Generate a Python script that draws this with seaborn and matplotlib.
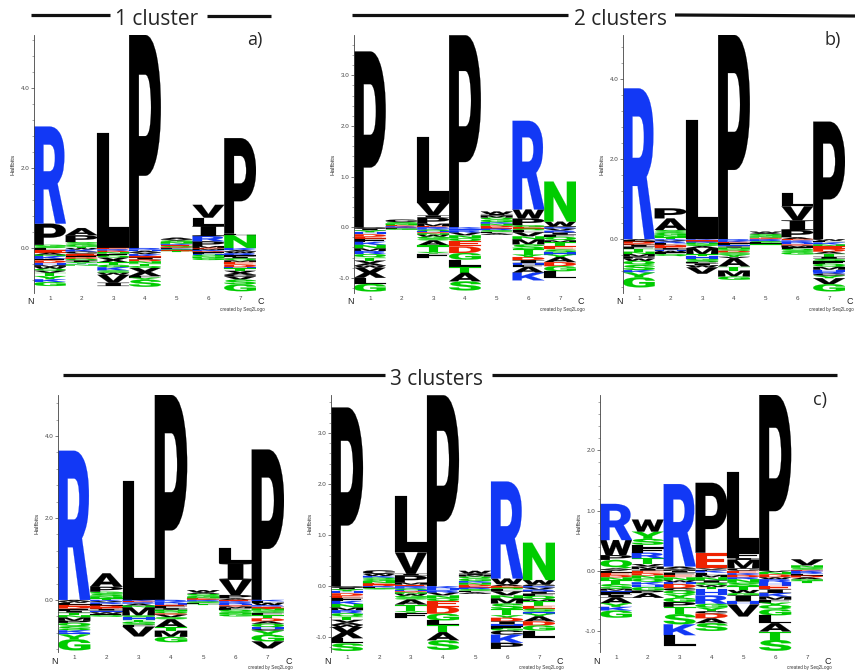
import matplotlib
matplotlib.use("Agg")
import matplotlib.pyplot as plt
import seaborn as sns
from matplotlib.textpath import TextPath
from matplotlib.patches import PathPatch
from matplotlib.font_manager import FontProperties
from matplotlib.transforms import Affine2D
from matplotlib.lines import Line2D
from matplotlib.ticker import MultipleLocator, AutoMinorLocator, FormatStrFormatter

sns.set_style("ticks")
plt.rcParams["font.family"] = ["Liberation Sans", "DejaVu Sans"]

POSITIONS = [1, 2, 3, 4, 5, 6, 7]
POS_LABELS = ["1", "2", "3", "4", "5", "6", "7"]

# Each column: letters stacked upward from 0 (first = closest to 0) and
# downward from 0 (first = closest to 0); values in halfbits.

# ---- 1 cluster ----
A_UP = [
    [("S", 0.04), ("G", 0.04), ("P", 0.53), ("R", 2.43)],
    [("T", 0.03), ("G", 0.05), ("S", 0.07), ("P", 0.17), ("A", 0.18)],
    [("L", 2.88)],
    [("P", 5.33)],
    [("D", 0.02), ("Q", 0.03), ("E", 0.03), ("K", 0.03), ("N", 0.04), ("G", 0.04), ("V", 0.03), ("A", 0.04)],
    [("M", 0.05), ("P", 0.12), ("R", 0.13), ("I", 0.25), ("L", 0.21), ("V", 0.32)],
    [("N", 0.33), ("L", 0.03), ("P", 2.39)],
]
A_DN = [
    [("L", 0.06), ("E", 0.06), ("A", 0.05), ("N", 0.03), ("K", 0.07), ("F", 0.04), ("D", 0.06), ("H", 0.06),
     ("M", 0.04), ("W", 0.05), ("Q", 0.05), ("V", 0.05), ("T", 0.08), ("Y", 0.08), ("K", 0.07), ("G", 0.10)],
    [("W", 0.04), ("K", 0.05), ("C", 0.05), ("E", 0.05), ("F", 0.04), ("D", 0.04), ("Q", 0.04), ("I", 0.04),
     ("Y", 0.04), ("H", 0.02), ("N", 0.03)],
    [("E", 0.03), ("R", 0.04), ("D", 0.03), ("N", 0.04), ("F", 0.05), ("Q", 0.05), ("X", 0.12), ("T", 0.06),
     ("G", 0.06), ("K", 0.08), ("S", 0.06), ("W", 0.05), ("V", 0.20), ("I", 0.08)],
    [("R", 0.04), ("H", 0.03), ("A", 0.04), ("V", 0.04), ("K", 0.06), ("E", 0.03), ("I", 0.05), ("D", 0.04),
     ("N", 0.06), ("T", 0.06), ("Q", 0.05), ("X", 0.20), ("F", 0.04), ("Y", 0.05), ("S", 0.18)],
    [("L", 0.02), ("R", 0.02), ("S", 0.02), ("E", 0.02), ("T", 0.02)],
    [("E", 0.02), ("M", 0.03), ("K", 0.03), ("D", 0.03), ("F", 0.03), ("H", 0.03), ("Q", 0.04), ("N", 0.04), ("G", 0.05)],
    [("K", 0.05), ("A", 0.04), ("W", 0.04), ("R", 0.05), ("F", 0.04), ("I", 0.04), ("Q", 0.05), ("M", 0.04),
     ("E", 0.06), ("D", 0.07), ("H", 0.03), ("T", 0.06), ("X", 0.10), ("C", 0.04), ("V", 0.08), ("S", 0.12), ("G", 0.17)],
]

# ---- 2 clusters, first ----
B1_UP = [
    [("P", 3.47)],
    [("K", 0.02), ("E", 0.02), ("N", 0.03), ("S", 0.03), ("C", 0.05)],
    [("E", 0.02), ("M", 0.05), ("P", 0.12), ("I", 0.04), ("V", 0.25), ("L", 1.31)],
    [("P", 3.79)],
    [("D", 0.03), ("N", 0.04), ("K", 0.03), ("G", 0.05), ("Q", 0.04), ("M", 0.04), ("I", 0.03), ("W", 0.05)],
    [("G", 0.04), ("P", 0.13), ("W", 0.18), ("R", 1.75)],
    [("C", 0.02), ("W", 0.09), ("N", 0.79)],
]
B1_DN = [
    [("C", 0.03), ("I", 0.03), ("Y", 0.04), ("H", 0.04), ("D", 0.05), ("E", 0.04), ("F", 0.06), ("K", 0.06),
     ("N", 0.07), ("M", 0.05), ("R", 0.06), ("Q", 0.07), ("T", 0.06), ("V", 0.05), ("A", 0.05), ("W", 0.04),
     ("X", 0.20), ("L", 0.12), ("G", 0.15)],
    [("D", 0.01), ("R", 0.01), ("L", 0.01), ("G", 0.02)],
    [("R", 0.02), ("K", 0.03), ("Q", 0.03), ("H", 0.02), ("D", 0.02), ("N", 0.03), ("W", 0.04), ("G", 0.03),
     ("S", 0.04), ("A", 0.10), ("T", 0.13), ("Y", 0.03), ("F", 0.09)],
    [("K", 0.03), ("H", 0.03), ("R", 0.05), ("V", 0.05), ("N", 0.06), ("Q", 0.06), ("E", 0.10), ("D", 0.13),
     ("G", 0.13), ("L", 0.14), ("T", 0.12), ("A", 0.17), ("S", 0.18)],
    [("E", 0.03), ("R", 0.03), ("S", 0.03), ("L", 0.03), ("A", 0.03)],
    [("E", 0.03), ("Q", 0.03), ("L", 0.04), ("V", 0.08), ("N", 0.06), ("M", 0.10), ("S", 0.10), ("T", 0.10),
     ("Y", 0.05), ("D", 0.06), ("I", 0.06), ("H", 0.04), ("F", 0.03), ("A", 0.12), ("K", 0.15)],
    [("K", 0.03), ("V", 0.04), ("R", 0.04), ("I", 0.04), ("F", 0.04), ("Q", 0.07), ("M", 0.04), ("T", 0.08),
     ("E", 0.06), ("S", 0.06), ("H", 0.04), ("Y", 0.05), ("A", 0.10), ("D", 0.08), ("G", 0.10), ("L", 0.14)],
]

# ---- 2 clusters, second ----
B2_UP = [
    [("R", 3.76)],
    [("T", 0.05), ("N", 0.05), ("G", 0.06), ("S", 0.07), ("A", 0.29), ("P", 0.25)],
    [("L", 2.97)],
    [("P", 5.09)],
    [("D", 0.02), ("E", 0.02), ("N", 0.03), ("G", 0.03), ("Q", 0.03), ("A", 0.03), ("W", 0.03)],
    [("A", 0.05), ("P", 0.18), ("I", 0.24), ("V", 0.35), ("L", 0.33)],
    [("P", 2.93)],
]
B2_DN = [
    [("A", 0.03), ("L", 0.03), ("D", 0.05), ("E", 0.03), ("I", 0.05), ("F", 0.05), ("T", 0.07), ("N", 0.06),
     ("M", 0.06), ("P", 0.05), ("W", 0.06), ("Q", 0.10), ("S", 0.13), ("K", 0.06), ("Y", 0.12), ("G", 0.25)],
    [("K", 0.03), ("V", 0.03), ("R", 0.04), ("L", 0.04), ("D", 0.04), ("E", 0.04), ("I", 0.04), ("H", 0.03),
     ("W", 0.04), ("F", 0.04), ("Q", 0.05)],
    [("K", 0.03), ("E", 0.03), ("R", 0.03), ("N", 0.04), ("S", 0.04), ("A", 0.05), ("M", 0.16), ("T", 0.05),
     ("H", 0.06), ("G", 0.04), ("Q", 0.04), ("F", 0.03), ("I", 0.05), ("W", 0.05), ("V", 0.16)],
    [("R", 0.04), ("K", 0.03), ("E", 0.03), ("F", 0.04), ("H", 0.04), ("I", 0.03), ("N", 0.04), ("Q", 0.04),
     ("D", 0.04), ("S", 0.05), ("Y", 0.06), ("V", 0.03), ("A", 0.21), ("T", 0.10), ("M", 0.15), ("G", 0.08)],
    [("K", 0.02), ("R", 0.03), ("S", 0.03), ("L", 0.03), ("I", 0.02), ("T", 0.02)],
    [("E", 0.03), ("K", 0.03), ("R", 0.04), ("H", 0.03), ("D", 0.03), ("M", 0.04), ("F", 0.04), ("Q", 0.04),
     ("S", 0.04), ("G", 0.06)],
    [("W", 0.04), ("L", 0.04), ("K", 0.05), ("N", 0.05), ("E", 0.06), ("D", 0.07), ("A", 0.05), ("T", 0.08),
     ("I", 0.05), ("S", 0.06), ("F", 0.06), ("Q", 0.08), ("M", 0.07), ("H", 0.05), ("R", 0.05), ("C", 0.05),
     ("Y", 0.06), ("V", 0.15), ("G", 0.18)],
]

# ---- 3 clusters, first ----
C1_UP = [
    [("R", 3.64)],
    [("T", 0.04), ("N", 0.05), ("S", 0.06), ("G", 0.05), ("P", 0.12), ("A", 0.33)],
    [("L", 2.91)],
    [("P", 5.00)],
    [("D", 0.02), ("E", 0.02), ("N", 0.03), ("G", 0.04), ("Q", 0.04), ("A", 0.04), ("W", 0.05)],
    [("A", 0.04), ("P", 0.08), ("V", 0.37), ("I", 0.41), ("L", 0.36)],
    [("P", 3.67)],
]
C1_DN = [
    [("A", 0.03), ("W", 0.04), ("L", 0.05), ("E", 0.04), ("D", 0.05), ("F", 0.05), ("I", 0.05), ("T", 0.06),
     ("N", 0.06), ("M", 0.08), ("P", 0.05), ("Q", 0.08), ("S", 0.10), ("K", 0.06), ("H", 0.04), ("Y", 0.12), ("G", 0.27)],
    [("K", 0.03), ("V", 0.03), ("R", 0.04), ("L", 0.04), ("D", 0.04), ("E", 0.04), ("I", 0.04), ("H", 0.04),
     ("W", 0.04), ("F", 0.03), ("Q", 0.04)],
    [("K", 0.03), ("E", 0.03), ("R", 0.03), ("A", 0.05), ("N", 0.04), ("M", 0.20), ("S", 0.04), ("H", 0.07),
     ("T", 0.04), ("G", 0.04), ("Q", 0.04), ("F", 0.04), ("V", 0.24)],
    [("R", 0.04), ("K", 0.04), ("H", 0.04), ("E", 0.03), ("F", 0.05), ("I", 0.04), ("N", 0.04), ("Q", 0.05),
     ("D", 0.03), ("V", 0.06), ("S", 0.05), ("A", 0.20), ("T", 0.08), ("M", 0.15), ("G", 0.13)],
    [("K", 0.02), ("R", 0.02), ("S", 0.03), ("L", 0.03), ("T", 0.02)],
    [("E", 0.03), ("K", 0.03), ("R", 0.04), ("H", 0.03), ("D", 0.03), ("M", 0.04), ("F", 0.04), ("Q", 0.04),
     ("S", 0.04), ("N", 0.03), ("G", 0.05)],
    [("K", 0.03), ("L", 0.04), ("W", 0.06), ("R", 0.03), ("E", 0.05), ("N", 0.05), ("S", 0.05), ("F", 0.06),
     ("T", 0.08), ("D", 0.07), ("A", 0.06), ("Q", 0.09), ("H", 0.04), ("C", 0.04), ("Y", 0.10), ("G", 0.16), ("V", 0.17)],
]

# ---- 3 clusters, second ----
C2_UP = [
    [("P", 3.50)],
    [("D", 0.03), ("E", 0.03), ("N", 0.04), ("G", 0.04), ("Q", 0.03), ("K", 0.03), ("W", 0.04), ("C", 0.07)],
    [("E", 0.03), ("M", 0.04), ("P", 0.14), ("I", 0.03), ("V", 0.42), ("L", 1.10)],
    [("P", 3.74)],
    [("D", 0.03), ("N", 0.04), ("K", 0.03), ("G", 0.05), ("Q", 0.04), ("M", 0.03), ("I", 0.03), ("W", 0.05)],
    [("A", 0.04), ("W", 0.11), ("R", 1.90)],
    [("C", 0.03), ("W", 0.09), ("N", 0.73)],
]
C2_DN = [
    [("C", 0.03), ("I", 0.03), ("Y", 0.04), ("H", 0.04), ("D", 0.05), ("E", 0.04), ("F", 0.06), ("K", 0.06),
     ("N", 0.07), ("M", 0.05), ("R", 0.06), ("Q", 0.07), ("T", 0.06), ("V", 0.05), ("A", 0.05), ("W", 0.04),
     ("X", 0.22), ("L", 0.10), ("S", 0.15)],
    [("R", 0.02), ("L", 0.02), ("S", 0.02)],
    [("R", 0.02), ("K", 0.03), ("Q", 0.03), ("H", 0.02), ("D", 0.02), ("N", 0.03), ("W", 0.04), ("G", 0.03),
     ("S", 0.04), ("A", 0.10), ("T", 0.13), ("Y", 0.03), ("F", 0.10)],
    [("K", 0.04), ("H", 0.04), ("R", 0.05), ("V", 0.05), ("N", 0.06), ("Q", 0.06), ("E", 0.10), ("D", 0.14),
     ("G", 0.13), ("L", 0.09), ("T", 0.14), ("A", 0.16), ("S", 0.19)],
    [("E", 0.03), ("R", 0.03), ("S", 0.03), ("L", 0.03), ("A", 0.03)],
    [("E", 0.03), ("Q", 0.03), ("L", 0.04), ("V", 0.08), ("N", 0.06), ("M", 0.10), ("S", 0.11), ("T", 0.12),
     ("Y", 0.05), ("D", 0.07), ("I", 0.06), ("H", 0.04), ("F", 0.04), ("G", 0.04), ("C", 0.08), ("K", 0.16), ("P", 0.12)],
    [("K", 0.03), ("V", 0.04), ("R", 0.04), ("I", 0.04), ("F", 0.04), ("Q", 0.07), ("M", 0.04), ("T", 0.08),
     ("E", 0.06), ("S", 0.06), ("H", 0.04), ("Y", 0.05), ("A", 0.10), ("D", 0.08), ("G", 0.10), ("L", 0.14)],
]

# ---- 3 clusters, third ----
C3_UP = [
    [("V", 0.02), ("A", 0.02), ("Q", 0.14), ("P", 0.08), ("W", 0.25), ("R", 0.60)],
    [("I", 0.03), ("M", 0.04), ("V", 0.04), ("T", 0.10), ("R", 0.09), ("F", 0.08), ("L", 0.05), ("S", 0.10),
     ("Y", 0.12), ("W", 0.20)],
    [("M", 0.02), ("V", 0.02), ("A", 0.03), ("R", 1.37)],
    [("F", 0.02), ("V", 0.02), ("E", 0.26), ("P", 1.16)],
    [("C", 0.04), ("M", 0.14), ("I", 0.03), ("F", 0.08), ("L", 1.35)],
    [("P", 2.92)],
    [("E", 0.02), ("S", 0.03), ("N", 0.04), ("V", 0.10)],
]
C3_DN = [
    [("L", 0.03), ("E", 0.04), ("D", 0.04), ("N", 0.05), ("T", 0.06), ("S", 0.08), ("M", 0.03), ("H", 0.03),
     ("F", 0.04), ("I", 0.04), ("A", 0.10), ("Y", 0.06), ("K", 0.06), ("G", 0.12)],
    [("E", 0.04), ("D", 0.04), ("N", 0.05), ("Q", 0.06), ("K", 0.04), ("H", 0.04), ("G", 0.06), ("P", 0.04), ("A", 0.08)],
    [("I", 0.03), ("F", 0.04), ("E", 0.04), ("N", 0.05), ("W", 0.03), ("H", 0.03), ("D", 0.07), ("C", 0.04),
     ("Q", 0.06), ("Y", 0.06), ("G", 0.07), ("P", 0.08), ("T", 0.12), ("S", 0.17), ("K", 0.18), ("L", 0.18)],
    [("K", 0.03), ("L", 0.04), ("M", 0.04), ("N", 0.05), ("I", 0.04), ("Q", 0.04), ("W", 0.03), ("T", 0.04),
     ("H", 0.10), ("R", 0.14), ("G", 0.06), ("Y", 0.06), ("C", 0.04), ("D", 0.08), ("A", 0.08), ("S", 0.13)],
    [("E", 0.04), ("K", 0.03), ("D", 0.04), ("R", 0.03), ("N", 0.06), ("S", 0.06), ("T", 0.06), ("W", 0.05),
     ("G", 0.04), ("I", 0.10), ("H", 0.05), ("V", 0.20)],
    [("V", 0.02), ("N", 0.04), ("D", 0.05), ("W", 0.03), ("R", 0.05), ("H", 0.06), ("E", 0.06), ("I", 0.06),
     ("K", 0.06), ("M", 0.05), ("F", 0.05), ("Y", 0.04), ("Q", 0.07), ("G", 0.10), ("L", 0.13), ("A", 0.14),
     ("T", 0.14), ("S", 0.18)],
    [("K", 0.02), ("R", 0.03), ("L", 0.03), ("D", 0.03), ("A", 0.03), ("G", 0.03), ("T", 0.03)],
]

# Residue colouring: hydrophobic black, basic blue, acidic red, neutral green
COLORS = {}
for aa in "ACFILMPVWX":
    COLORS[aa] = "#000000"
for aa in "HKR":
    COLORS[aa] = "#1238f5"
for aa in "DE":
    COLORS[aa] = "#ee2200"
for aa in "GNQSTY":
    COLORS[aa] = "#00cc00"

# Heavy glyphs for the stacked letters
HEAVY = FontProperties(family=["Roboto", "DejaVu Sans"], weight=900)
SERIF_BOLD = FontProperties(family="Liberation Serif", weight="bold")
_glyph_cache = {}


def glyph(ch):
    if ch not in _glyph_cache:
        prop = SERIF_BOLD if ch == "I" else HEAVY
        path = TextPath((0, 0), ch, size=1, prop=prop)
        _glyph_cache[ch] = (path, path.get_extents())
    return _glyph_cache[ch]


def draw_letter(ax, ch, x, y0, h):
    path, ext = glyph(ch)
    tr = (Affine2D().translate(-ext.x0, -ext.y0)
          .scale(1.0 / ext.width, h / ext.height)
          .translate(x - 0.5, y0))
    ax.add_patch(PathPatch(tr.transform_path(path), facecolor=COLORS[ch],
                           edgecolor=COLORS[ch], linewidth=0.12))


W, H = 855, 672
fig = plt.figure(figsize=(W / 100, H / 100), dpi=100)


def fx(x):
    return x / W


def fy(y):
    return 1 - y / H


def logo_panel(box, up, dn, ylim, step):
    left, top, right, bottom = box
    ax = fig.add_axes([fx(left), fy(bottom), (right - left) / W, (bottom - top) / H])
    for x, stack in zip(POSITIONS, up):
        y = 0.0
        for ch, h in stack:
            draw_letter(ax, ch, x, y, h)
            y += h
    for x, stack in zip(POSITIONS, dn):
        y = 0.0
        for ch, h in stack:
            y -= h
            draw_letter(ax, ch, x, y, h)
    ax.set_xlim(0.5, 7.5)
    ax.set_ylim(*ylim)
    sns.despine(ax=ax, top=True, right=True, bottom=True)
    ax.spines["left"].set_linewidth(0.6)
    ax.spines["left"].set_color("#444444")
    ax.yaxis.set_major_locator(MultipleLocator(step))
    ax.yaxis.set_minor_locator(AutoMinorLocator(5))
    ax.yaxis.set_major_formatter(FormatStrFormatter("%.1f"))
    ax.tick_params(axis="y", which="major", length=2.2, width=0.5, pad=1,
                   labelsize=4.5, colors="#444444", left=True)
    ax.tick_params(axis="y", which="minor", length=1.3, width=0.4, colors="#666666", left=True)
    ax.set_xticks(POSITIONS)
    ax.set_xticklabels(POS_LABELS)
    ax.tick_params(axis="x", length=0, pad=2, labelsize=4.5, colors="#444444", bottom=True)
    ax.set_facecolor("none")

    ax.text(fx(left - 21), fy((top + bottom) / 2), "Halfbits", transform=fig.transFigure,
            rotation=90, ha="center", va="center", fontsize=4.6, color="#333333")
    fig.text(fx(left - 4), fy(bottom + 9), "N", ha="center", va="center",
             fontsize=6.5, color="#222222")
    fig.text(fx(right + 5), fy(bottom + 9), "C", ha="center", va="center",
             fontsize=6.5, color="#222222")
    fig.text(fx(right + 9), fy(bottom + 16), "created by Seq2Logo", ha="right",
             va="center", fontsize=3.3, color="#333333")
    return ax


logo_panel((34, 35, 256, 293), A_UP, A_DN, (-1.125, 5.33), 2.0)
logo_panel((354, 35, 576, 293), B1_UP, B1_DN, (-1.30, 3.795), 1.0)
logo_panel((623, 35, 845, 293), B2_UP, B2_DN, (-1.34, 5.09), 2.0)
logo_panel((58, 395, 284, 652), C1_UP, C1_DN, (-1.27, 5.0), 2.0)
logo_panel((331, 395, 555, 652), C2_UP, C2_DN, (-1.29, 3.745), 1.0)
logo_panel((600, 395, 823, 652), C3_UP, C3_DN, (-1.35, 2.92), 1.0)


def rule(x0, x1, y0, y1):
    fig.add_artist(Line2D([fx(x0), fx(x1)], [fy(y0), fy(y1)], transform=fig.transFigure,
                          color="#111111", linewidth=2.3, solid_capstyle="butt"))


TITLE_FONT = ["Open Sans", "DejaVu Sans"]
rule(31, 110, 15, 15)
rule(207, 271, 16, 16)
fig.text(fx(157), fy(25), "1 cluster", ha="center", va="baseline", fontsize=15, family=TITLE_FONT)
rule(352, 568, 15, 15)
rule(675, 855, 15, 16)
fig.text(fx(620), fy(25), "2 clusters", ha="center", va="baseline", fontsize=15, family=TITLE_FONT)
rule(63, 385, 375, 375)
rule(492, 837, 375, 375)
fig.text(fx(437), fy(385), "3 clusters", ha="center", va="baseline", fontsize=15, family=TITLE_FONT)

fig.text(fx(255), fy(45), "a)", ha="center", va="baseline", fontsize=13, family=TITLE_FONT)
fig.text(fx(833), fy(45), "b)", ha="center", va="baseline", fontsize=13, family=TITLE_FONT)
fig.text(fx(820), fy(405), "c)", ha="center", va="baseline", fontsize=13, family=TITLE_FONT)

fig.savefig("out.png", dpi=100)
